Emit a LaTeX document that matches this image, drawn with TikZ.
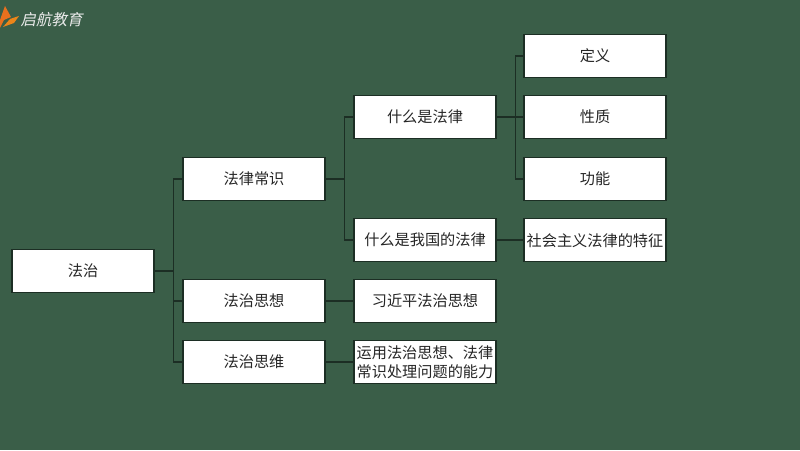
\documentclass[tikz,border=0pt]{standalone}
\usepackage{fontspec}
\newfontfamily\cjk{Noto Sans CJK SC}
\definecolor{board}{RGB}{58,94,72}
\definecolor{boxline}{RGB}{28,46,36}
\definecolor{logoorange}{RGB}{232,112,30}
\tikzset{
    topic/.style={draw=boxline,line width=0.8pt,fill=white,text=black!85,minimum width=3.55cm,minimum height=1.07cm,inner sep=0pt,align=center,font=\cjk\fontsize{10.8pt}{13.6pt}\selectfont},
    link/.style={draw=boxline,line width=1pt}
}
\begin{document}
\begin{tikzpicture}
    \fill[board] (0,0) rectangle (20,11.25);
    % logo
    \fill[logoorange] (0.125,11.1) -- (0.275,10.825) -- (0.1,10.75) -- (0,10.55) -- (0,10.75) -- cycle;
    \fill[logoorange!85!yellow] (0.075,10.575) -- (0.25,10.775) -- (0.475,10.85) -- (0.35,10.675) -- cycle;
    \node[text=white!92!black,xslant=0.2,inner sep=0pt,font=\cjk\fontsize{11pt}{13pt}\selectfont] (logo) at (1.32,10.75) {启航教育};
    % boxes
    \node[topic] (fazhi) at (2.075,4.48) {法治};
    \node[topic] (changshi) at (6.35,6.775) {法律常识};
    \node[topic] (sixiang) at (6.35,3.725) {法治思想};
    \node[topic] (siwei) at (6.35,2.195) {法治思维};
    \node[topic] (shenme) at (10.625,8.325) {什么是法律};
    \node[topic] (woguo) at (10.625,5.245) {什么是我国的法律};
    \node[topic] (jinping) at (10.625,3.725) {习近平法治思想};
    \node[topic] (nengli) at (10.625,2.195) {运用法治思想、法律\\常识处理问题的能力};
    \node[topic] (dingyi) at (14.875,9.85) {定义};
    \node[topic] (xingzhi) at (14.875,8.325) {性质};
    \node[topic] (gongneng) at (14.875,6.775) {功能};
    \node[topic] (tezheng) at (14.875,5.245) {社会主义法律的特征};
    % connectors
    \draw[link] (fazhi.east) -- ++(0.475,0) |- (changshi.west);
    \draw[link] (fazhi.east) -- ++(0.475,0) |- (sixiang.west);
    \draw[link] (fazhi.east) -- ++(0.475,0) |- (siwei.west);
    \draw[link] (changshi.east) -- ++(0.475,0) |- (shenme.west);
    \draw[link] (changshi.east) -- ++(0.475,0) |- (woguo.west);
    \draw[link] (shenme.east) -- ++(0.475,0) |- (dingyi.west);
    \draw[link] (shenme.east) -- (xingzhi.west);
    \draw[link] (shenme.east) -- ++(0.475,0) |- (gongneng.west);
    \draw[link] (woguo.east) -- (tezheng.west);
    \draw[link] (sixiang.east) -- (jinping.west);
    \draw[link] (siwei.east) -- (nengli.west);
\end{tikzpicture}
\end{document}
